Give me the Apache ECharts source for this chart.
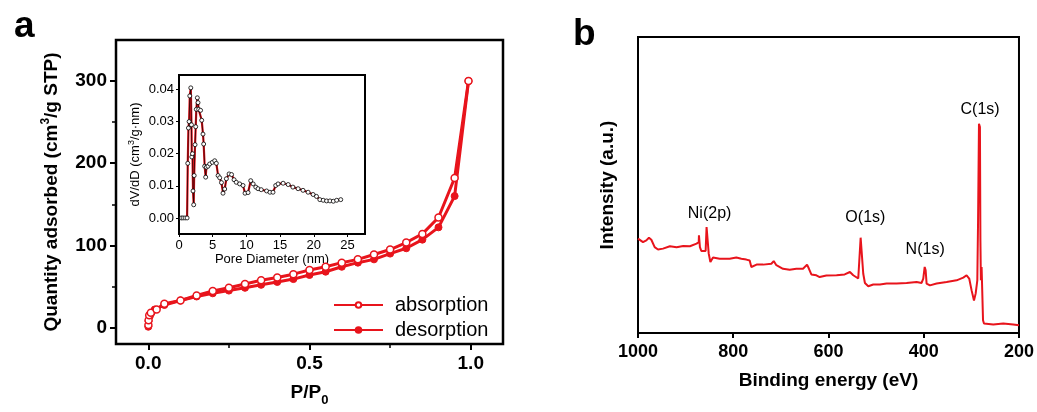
<!DOCTYPE html>
<html>
<head>
<meta charset="utf-8">
<script src="https://cdn.jsdelivr.net/npm/echarts@6/dist/echarts.min.js"></script>
<style>html,body{margin:0;padding:0;background:#fff;}#c{width:1037px;height:412px;}</style>
</head>
<body>
<div id="c"></div>
<script>
// ---- Panel a: N2 isotherm ----
const adsP = [0.0005,0.001,0.003,0.008,0.026,0.05,0.1,0.15,0.2,0.25,0.3,0.35,0.4,0.45,0.5,0.55,0.6,0.65,0.7,0.75,0.8,0.85,0.9,0.95,0.993];
const adsQ = [3,9,15,18,22,29,33,39,44.5,48.4,53,57.5,61,65,70,74,79,83,89,95,103.5,114,134,182,300];
const desP = [0.993,0.95,0.9,0.85,0.8,0.75,0.7,0.65,0.6,0.55,0.5,0.45,0.4,0.35,0.3,0.25,0.2,0.15,0.1,0.05,0.02,0.01,0.005,0.001,0.0002];
const desQ = [300,160,122,107,96.5,90,83,79,74,68,64,59,55.5,52,48.4,45,41.7,37.8,33,27.5,22,18,14,8,1];
const aXTicks = [0,0.5,1.0];
const aXMinor = [0.25,0.75];
const aYTicks = [0,100,200,300];
const aYMinor = [50,150,250];

// ---- Inset: pore size distribution ----
const poreD = [0.35,0.6,0.9,1.2,1.3,1.4,1.5,1.6,1.75,1.85,1.9,2.0,2.08,2.18,2.25,2.38,2.48,2.57,2.72,2.82,2.92,3.2,3.37,3.56,3.66,3.81,3.96,4.06,4.3,4.55,4.95,5.3,5.54,5.8,6.04,6.3,6.53,6.78,7.03,7.43,7.8,8.17,8.5,9.0,9.5,9.8,10.25,10.64,11.0,11.4,11.73,12.2,13.0,13.5,13.95,14.35,14.7,15.45,16.2,16.9,17.67,18.4,19.16,19.9,20.4,20.9,21.4,21.9,22.4,22.9,23.4,24.0];
const poreV = [0,0,0,0,0.017,0.028,0.030,0.038,0.0405,0.029,0.019,0.020,0.0084,0.0041,0.0132,0.0228,0.0284,0.0338,0.0374,0.0359,0.0338,0.0335,0.0304,0.0261,0.023,0.0161,0.0127,0.0158,0.0161,0.0168,0.0173,0.0178,0.017,0.0132,0.0125,0.011,0.0077,0.009,0.0122,0.0137,0.0135,0.0119,0.0111,0.0106,0.0101,0.0077,0.0079,0.0116,0.0106,0.0096,0.0091,0.0088,0.0084,0.008,0.008,0.0101,0.0106,0.0108,0.0104,0.0096,0.0091,0.0086,0.008,0.0073,0.0067,0.0057,0.0055,0.0053,0.0053,0.0052,0.0055,0.0057];
const inYTicks = [0,0.01,0.02,0.03,0.04];

// ---- Panel b: XPS survey ----
const xpsE = [1000,989.5,982.5,977,972,965,958,947.5,933,919,905,891,877,872.5,872,870,867,858,856,853,851.5,848,842.5,828.5,807.5,793.5,783,772.5,765.5,762,751,737,720,715,709.5,695.5,681.5,667.5,653.5,645,641,636,625.5,618.5,604.5,583,566,555,548,537.5,534,532.5,530,527,523.5,516.5,506,492,478,457,436,415,404.5,401,398,396,394,387,373,352,331,317,310,304.5,299.5,294.5,291,287.5,286,284,282,281,280,278.5,276.5,275.5,273.5,254,233,212,200];
const xpsI = [31.9,30.7,31.3,32.2,31.5,29,28.2,28.5,29.3,29,29.4,29.3,30.2,30.7,33,29,27.7,27.7,35.8,35.8,26.8,24,25.5,25.1,25.1,25.5,25.1,24.8,24.5,22.3,23.1,23.1,23.4,24.3,22.9,21.7,21.4,21.7,21.7,23.1,21.7,19.8,19.5,18.9,19.4,19.5,19.8,20.6,19.5,18.4,18.9,32.2,31.9,20.0,16.9,15.8,16.4,16.4,16.7,16.7,16.9,17.2,16.9,18.4,22.3,21.2,16.7,16.1,16.7,17.2,17.8,18.7,19.5,18.4,14.4,11.0,13.3,17.8,36.9,70.7,69.6,31.3,17.8,22.3,22.3,4.3,3.2,2.9,3.2,2.9,2.6];
const peakNames = ['Ni(2p)','O(1s)','N(1s)','C(1s)'];
const peakE = [849.7,522.6,397,281.6];
const peakI = [40.4,39.1,28.3,75.5];

const RED = '#e8141c';
const FONT = 'Liberation Sans, Arial, sans-serif';
const zip = (a,b) => a.map((v,i)=>[v,b[i]]);

const chart = echarts.init(document.getElementById('c'), null, {renderer:'canvas'});
const boldLbl = (size) => ({fontFamily:FONT, fontWeight:'bold', fontSize:size, color:'#000'});
const noLine = {show:false, onZero:false};

const option = {
  animation:false,
  backgroundColor:'#fff',
  title:[
    {text:'a', left:9, top:3, textStyle:{fontFamily:FONT, fontWeight:'bold', fontSize:37, color:'#000'}},
    {text:'b', left:568, top:11, textStyle:{fontFamily:FONT, fontWeight:'bold', fontSize:37, color:'#000'}}
  ],
  grid:[
    {left:116, top:40, width:387, height:313, show:true, borderColor:'#000', borderWidth:2.5, backgroundColor:'transparent'},
    {left:179, top:75, width:186, height:159, show:true, borderColor:'#000', borderWidth:2, backgroundColor:'#fff'},
    {left:638, top:37, width:382, height:296, show:true, borderColor:'#000', borderWidth:2, backgroundColor:'transparent'}
  ],
  legend:{
    data:['absorption','desorption'], orient:'vertical', left:333, top:295, padding:0,
    itemWidth:49, itemHeight:7, itemGap:5,
    textStyle:{fontFamily:FONT, fontSize:20, color:'#000', padding:[0,0,0,7]}
  },
  xAxis:[
    {gridIndex:0, type:'value', min:-0.1, max:1.1, position:'bottom', splitLine:{show:false},
     axisLine:noLine,
     axisTick:{show:true, inside:false, length:6, lineStyle:{width:2, color:'#000'}, customValues:aXTicks},
     axisLabel:Object.assign(boldLbl(19), {margin:10, customValues:aXTicks, formatter:v=>v.toFixed(1)}),
     name:'P/P{sub|0}', nameLocation:'middle', nameGap:35,
     nameTextStyle:Object.assign(boldLbl(19), {lineHeight:28, rich:{sub:{fontFamily:FONT, fontWeight:'bold', fontSize:13, color:'#000', verticalAlign:'bottom', lineHeight:28}}})},
    {gridIndex:0, type:'value', min:-0.1, max:1.1, position:'bottom', splitLine:{show:false}, axisLine:noLine,
     axisTick:{show:true, length:4, lineStyle:{width:1.5, color:'#000'}, customValues:aXMinor},
     axisLabel:{show:false}},
    {gridIndex:1, type:'value', min:0, max:27.6, interval:5, position:'bottom', splitLine:{show:false}, axisLine:noLine,
     axisTick:{show:true, length:3, lineStyle:{width:1, color:'#000'}},
     axisLabel:{fontFamily:FONT, fontSize:13, color:'#000', margin:5, showMaxLabel:false},
     name:'Pore Diameter (nm)', nameLocation:'middle', nameGap:18,
     nameTextStyle:{fontFamily:FONT, fontSize:13, color:'#000'}},
    {gridIndex:2, type:'value', min:200, max:1000, interval:200, inverse:true, position:'bottom', splitLine:{show:false}, axisLine:noLine,
     axisTick:{show:true, length:5, lineStyle:{width:2, color:'#000'}},
     axisLabel:Object.assign(boldLbl(18), {margin:10, formatter:v=>String(v)}),
     name:'Binding energy (eV)', nameLocation:'middle', nameGap:38,
     nameTextStyle:boldLbl(19)}
  ],
  yAxis:[
    {gridIndex:0, type:'value', min:-20, max:350, position:'left', splitLine:{show:false}, axisLine:noLine,
     axisTick:{show:true, length:6, lineStyle:{width:2, color:'#000'}, customValues:aYTicks},
     axisLabel:Object.assign(boldLbl(19), {margin:9, customValues:aYTicks}),
     name:'Quantity adsorbed (cm{sup|3}/g STP)', nameLocation:'middle', nameGap:52,
     nameTextStyle:Object.assign(boldLbl(19), {lineHeight:24, rich:{sup:{fontFamily:FONT, fontWeight:'bold', fontSize:12, color:'#000', verticalAlign:'top', lineHeight:24}}})},
    {gridIndex:0, type:'value', min:-20, max:350, position:'left', splitLine:{show:false}, axisLine:noLine,
     axisTick:{show:true, length:4, lineStyle:{width:1.5, color:'#000'}, customValues:aYMinor},
     axisLabel:{show:false}},
    {gridIndex:1, type:'value', min:-0.005, max:0.0445, position:'left', splitLine:{show:false}, axisLine:noLine,
     axisTick:{show:true, length:3, lineStyle:{width:1, color:'#000'}, customValues:inYTicks},
     axisLabel:{fontFamily:FONT, fontSize:13, color:'#000', margin:5, customValues:inYTicks, formatter:v=>v.toFixed(2)},
     name:'dV/dD (cm{sup|3}/g·nm)', nameLocation:'middle', nameGap:34,
     nameTextStyle:{fontFamily:FONT, fontSize:13, color:'#000', lineHeight:18, rich:{sup:{fontFamily:FONT, fontSize:9, color:'#000', verticalAlign:'top', lineHeight:18}}}},
    {gridIndex:2, type:'value', min:0, max:100, position:'left', splitLine:{show:false}, axisLine:noLine,
     axisTick:{show:false}, axisLabel:{show:false},
     name:'Intensity (a.u.)', nameLocation:'middle', nameGap:21,
     nameTextStyle:boldLbl(19)}
  ],
  series:[
    {name:'absorption', type:'line', xAxisIndex:0, yAxisIndex:0, data:zip(adsP,adsQ),
     lineStyle:{color:RED, width:3}, symbol:'circle', symbolSize:7,
     itemStyle:{color:'#fff', borderColor:RED, borderWidth:1.5}, z:3},
    {name:'desorption', type:'line', xAxisIndex:0, yAxisIndex:0, data:zip(desP,desQ),
     lineStyle:{color:RED, width:3}, symbol:'circle', symbolSize:7,
     itemStyle:{color:RED, borderColor:RED, borderWidth:1}, z:2},
    {name:'pore-red', type:'line', xAxisIndex:2, yAxisIndex:2, data:zip(poreD,poreV),
     lineStyle:{color:RED, width:2.2}, symbol:'none', z:3},
    {name:'pore-black', type:'line', xAxisIndex:2, yAxisIndex:2, data:zip(poreD,poreV),
     lineStyle:{color:'#000', width:0.7}, symbol:'circle', symbolSize:4,
     itemStyle:{color:'#fff', borderColor:'#000', borderWidth:0.8}, z:4},
    {name:'xps', type:'line', xAxisIndex:3, yAxisIndex:3, data:zip(xpsE,xpsI),
     lineStyle:{color:RED, width:2}, symbol:'none', z:3},
    {name:'peaks', type:'scatter', xAxisIndex:3, yAxisIndex:3,
     data:peakE.map((e,i)=>({value:[e,peakI[i]], name:peakNames[i]})),
     symbolSize:0.01, itemStyle:{color:'#000'},
     label:{show:true, position:'inside', formatter:p=>p.name, fontFamily:FONT, fontSize:16, color:'#000', opacity:1}, z:5}
  ]
};
chart.setOption(option);
</script>
</body>
</html>
